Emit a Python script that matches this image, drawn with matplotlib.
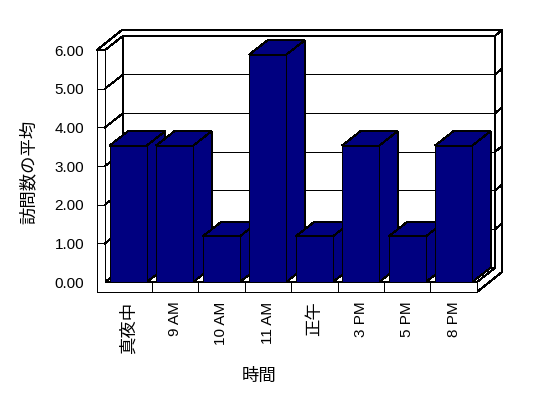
import matplotlib.pyplot as plt
from matplotlib.patches import Polygon

# data
categories = ['真夜中', '9 AM', '10 AM', '11 AM', '正午', '3 PM', '5 PM', '8 PM']
values = [3.53, 3.53, 1.18, 5.88, 1.18, 3.53, 1.18, 3.53]
y_ticks = [0, 1, 2, 3, 4, 5, 6]
x_title = '時間'
y_title = '訪問数の平均'

bar_color = '#000080'
line_w = 0.72

plt.rcParams['font.family'] = ['Liberation Sans', 'Noto Sans CJK JP']

fig = plt.figure(figsize=(5.48, 3.98), dpi=100)
fig.set_facecolor('white')
ax = fig.add_axes([105 / 548, 116 / 398, 372 / 548, 232 / 398])
ax.set_xlim(-0.5, len(categories) - 0.5)
ax.set_ylim(0, 6)
ax.set_facecolor('none')
for s in ax.spines.values():
    s.set_visible(False)

# oblique depth offset and wall thicknesses, in data units
dx, dy = 0.394, 0.37
wt, ft = 0.172, 0.259
bx, by = 0.144, 0.147
x0, x1 = -0.5, len(categories) - 0.5
top = y_ticks[-1]


def poly(pts, z, fc='white'):
    p = Polygon(pts, closed=True, facecolor=fc, edgecolor='black',
                linewidth=line_w, clip_on=False, zorder=z, antialiased=False)
    ax.add_patch(p)


def seg(xs, ys, z):
    ax.plot(xs, ys, color='black', linewidth=line_w, clip_on=False, zorder=z,
            antialiased=False)


# back wall and its right side / floor side
poly([(x0 + dx, dy), (x1 + dx, dy), (x1 + dx, top + dy), (x0 + dx, top + dy)], 1)
poly([(x1, 0), (x1 + dx, dy), (x1 + dx, top + dy), (x1 + dx + bx, top + dy + by),
      (x1 + dx + bx, -ft + dy + by), (x1, -ft)], 1)
# top edge of walls
poly([(x0 - wt, top), (x0, top), (x0 + dx, top + dy), (x1 + dx, top + dy),
      (x1 + dx + bx, top + dy + by), (x0 - wt + dx + bx, top + dy + by)], 1)
# left wall inner face and floor top
poly([(x0, 0), (x0, top), (x0 + dx, top + dy), (x0 + dx, dy)], 1)
poly([(x0, 0), (x1, 0), (x1 + dx, dy), (x0 + dx, dy)], 1)
# front faces of left wall and floor
poly([(x0 - wt, top), (x0, top), (x0, 0), (x1, 0), (x1, -ft), (x0 - wt, -ft)], 1)

for k in y_ticks[1:-1]:
    seg([x0 + dx, x1 + dx], [k + dy, k + dy], 1.5)
    seg([x0, x0 + dx], [k, k + dy], 1.5)
    seg([x1 + dx, x1 + dx + bx], [k + dy, k + dy + by], 1.5)
    seg([x0 - wt, x0], [k, k], 1.5)
for i in range(len(categories) - 1):
    seg([i + 0.5, i + 0.5], [0, -ft], 1.5)

# bars
half = 0.4
bars = ax.bar(range(len(categories)), values, width=2 * half, color=bar_color,
              edgecolor='black', linewidth=line_w)
for i, (b, v) in enumerate(zip(bars, values)):
    z = 3 + 2 * i
    poly([(i + half, 0), (i + half + dx, dy), (i + half + dx, v + dy), (i + half, v)], z, bar_color)
    poly([(i - half, v), (i + half, v), (i + half + dx, v + dy), (i - half + dx, v + dy)], z, bar_color)
    b.set_zorder(z + 1)
    b.set_antialiased(False)

ax.set_yticks(y_ticks)
ax.set_yticklabels(['%.2f' % t for t in y_ticks], fontsize=11)
ax.set_xticks(range(len(categories)))
ax.set_xticklabels(categories, rotation=90, fontsize=11)
for lab in ax.get_xticklabels():
    if not any(c.isascii() for c in lab.get_text()):
        lab.set_fontsize(12.5)
ax.tick_params(axis='y', length=0, pad=15)
ax.tick_params(axis='x', length=0, pad=14)

fig.text(28 / 548, 1 - 172 / 398, y_title, rotation=90, ha='center', va='center', fontsize=12.5)
fig.text(259 / 548, 1 - 376 / 398, x_title, ha='center', va='center', fontsize=12.5)

fig.savefig('out.png', dpi=100)
